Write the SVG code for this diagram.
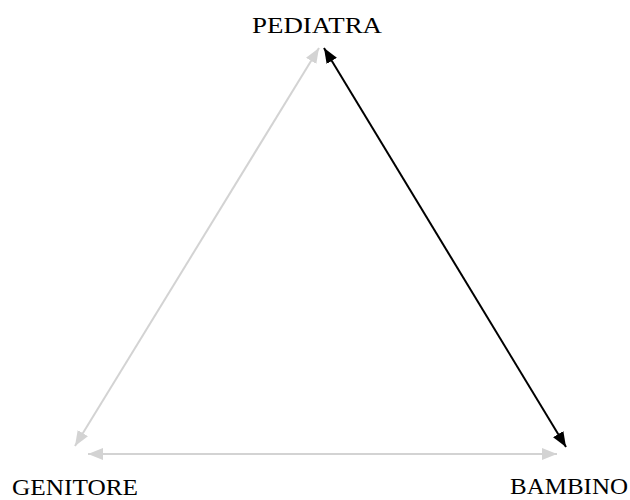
<svg xmlns="http://www.w3.org/2000/svg" width="630" height="500" viewBox="0 0 630 500">
<style>
.lbl{font-family:"Liberation Serif","Times New Roman",serif;font-size:23px;fill:#000}
.gray{stroke:#d3d3d3;stroke-width:2;fill:none}
.black{stroke:#000;stroke-width:2;fill:none}
</style>
<defs>
<marker id="ag" viewBox="0 0 15 12" refX="15" refY="6" markerWidth="15" markerHeight="12" markerUnits="userSpaceOnUse" orient="auto-start-reverse"><path d="M0,0 L15,6 L0,12 z" fill="#d3d3d3"/></marker>
<marker id="ab" viewBox="0 0 15 12" refX="15" refY="6" markerWidth="15" markerHeight="12" markerUnits="userSpaceOnUse" orient="auto-start-reverse"><path d="M0,0 L15,6 L0,12 z" fill="#000"/></marker>
</defs>
<rect width="630" height="500" fill="#fff"/>
<g id="connectors">
<line class="gray" x1="319" y1="48" x2="75" y2="446" marker-start="url(#ag)" marker-end="url(#ag)"/>
<line class="black" x1="324" y1="48" x2="566" y2="447" marker-start="url(#ab)" marker-end="url(#ab)"/>
<line class="gray" x1="88" y1="454" x2="557" y2="454" marker-start="url(#ag)" marker-end="url(#ag)"/>
</g>
<g id="pediatra"><text class="lbl" x="252" y="33" textLength="130" lengthAdjust="spacingAndGlyphs">PEDIATRA</text></g>
<g id="genitore"><text class="lbl" x="12" y="495" textLength="126" lengthAdjust="spacingAndGlyphs">GENITORE</text></g>
<g id="bambino"><text class="lbl" x="510" y="494" textLength="118" lengthAdjust="spacingAndGlyphs">BAMBINO</text></g>
</svg>
